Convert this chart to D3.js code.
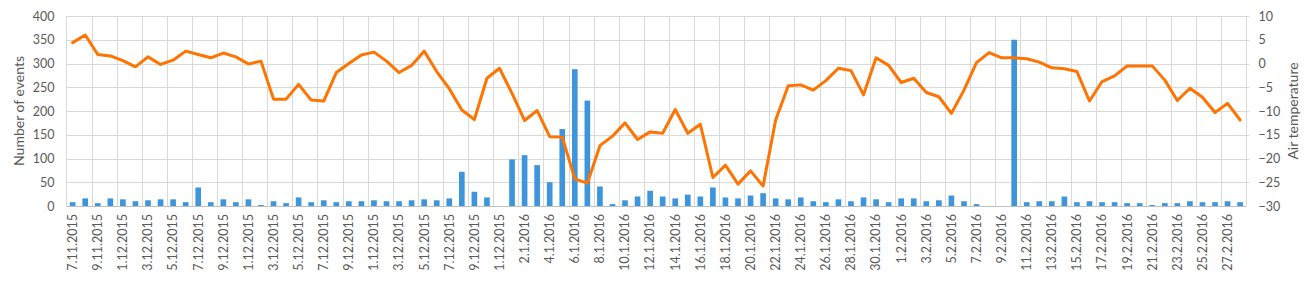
<!DOCTYPE html>
<html>
<head>
<meta charset="utf-8">
<script src="https://cdn.jsdelivr.net/npm/d3@7/dist/d3.min.js"></script>
<style>
  body { margin: 0; background: #fff; }
  svg text { font-family: Lato, "Open Sans", sans-serif; fill: #595959; }
</style>
</head>
<body>
<svg width="1312" height="283"></svg>
<script>
// one category per day, 27.11.2015 - 28.2.2016
const categories = [
  '27.11.2015', '28.11.2015', '29.11.2015', '30.11.2015',
  '1.12.2015', '2.12.2015', '3.12.2015', '4.12.2015', '5.12.2015', '6.12.2015', '7.12.2015', '8.12.2015',
  '9.12.2015', '10.12.2015', '11.12.2015', '12.12.2015', '13.12.2015', '14.12.2015', '15.12.2015', '16.12.2015',
  '17.12.2015', '18.12.2015', '19.12.2015', '20.12.2015', '21.12.2015', '22.12.2015', '23.12.2015', '24.12.2015',
  '25.12.2015', '26.12.2015', '27.12.2015', '28.12.2015', '29.12.2015', '30.12.2015', '31.12.2015',
  '1.1.2016', '2.1.2016', '3.1.2016', '4.1.2016', '5.1.2016', '6.1.2016', '7.1.2016', '8.1.2016',
  '9.1.2016', '10.1.2016', '11.1.2016', '12.1.2016', '13.1.2016', '14.1.2016', '15.1.2016', '16.1.2016',
  '17.1.2016', '18.1.2016', '19.1.2016', '20.1.2016', '21.1.2016', '22.1.2016', '23.1.2016', '24.1.2016',
  '25.1.2016', '26.1.2016', '27.1.2016', '28.1.2016', '29.1.2016', '30.1.2016', '31.1.2016',
  '1.2.2016', '2.2.2016', '3.2.2016', '4.2.2016', '5.2.2016', '6.2.2016', '7.2.2016', '8.2.2016',
  '9.2.2016', '10.2.2016', '11.2.2016', '12.2.2016', '13.2.2016', '14.2.2016', '15.2.2016', '16.2.2016',
  '17.2.2016', '18.2.2016', '19.2.2016', '20.2.2016', '21.2.2016', '22.2.2016', '23.2.2016', '24.2.2016',
  '25.2.2016', '26.2.2016', '27.2.2016', '28.2.2016',
];

// labels as they show up on the axis (every other day, clipped to 9 chars)
const tickLabels = [
  '7.11.2015', '9.11.2015', '1.12.2015', '3.12.2015', '5.12.2015', '7.12.2015', '9.12.2015',
  '1.12.2015', '3.12.2015', '5.12.2015', '7.12.2015', '9.12.2015', '1.12.2015', '3.12.2015',
  '5.12.2015', '7.12.2015', '9.12.2015', '1.12.2015', '2.1.2016', '4.1.2016', '6.1.2016',
  '8.1.2016', '10.1.2016', '12.1.2016', '14.1.2016', '16.1.2016', '18.1.2016', '20.1.2016',
  '22.1.2016', '24.1.2016', '26.1.2016', '28.1.2016', '30.1.2016', '1.2.2016', '3.2.2016',
  '5.2.2016', '7.2.2016', '9.2.2016', '11.2.2016', '13.2.2016', '15.2.2016', '17.2.2016',
  '19.2.2016', '21.2.2016', '23.2.2016', '25.2.2016', '27.2.2016',
];

const events = [
  8, 16, 6, 16, 14, 10, 12, 14, 14, 8,
  39, 8, 14, 8, 14, 2, 10, 6, 18, 8,
  12, 8, 10, 10, 12, 10, 10, 12, 14, 12,
  16, 72, 30, 18, 0, 98, 107, 86, 50, 162,
  288, 222, 41, 4, 12, 20, 32, 20, 16, 24,
  20, 39, 18, 16, 22, 27, 16, 14, 18, 10,
  8, 14, 10, 18, 14, 8, 16, 16, 10, 12,
  22, 10, 4, 0, 0, 350, 8, 10, 10, 20,
  8, 10, 8, 8, 6, 6, 2, 6, 6, 10,
  8, 8, 10, 8,
];

const temperature = [
  4.4, 6.0, 1.9, 1.6, 0.6, -0.7, 1.4, -0.2, 0.7, 2.6,
  1.9, 1.2, 2.2, 1.4, -0.1, 0.5, -7.5, -7.5, -4.4, -7.7,
  -7.9, -1.9, 0.0, 1.8, 2.4, 0.5, -1.9, -0.4, 2.6, -1.7,
  -5.3, -9.8, -11.8, -3.1, -1.0, -6.3, -12.0, -9.9, -15.4, -15.5,
  -24.3, -25.2, -17.3, -15.3, -12.5, -16.0, -14.4, -14.7, -9.7, -14.7,
  -12.8, -24.0, -21.4, -25.4, -22.6, -25.8, -11.9, -4.7, -4.5, -5.6,
  -3.6, -1.0, -1.5, -6.6, 1.2, -0.4, -4.0, -3.1, -6.1, -7.0,
  -10.5, -5.6, 0.2, 2.3, 1.2, 1.2, 1.0, 0.3, -0.9, -1.1,
  -1.7, -7.9, -3.8, -2.6, -0.5, -0.5, -0.5, -3.5, -7.8, -5.2,
  -7.1, -10.3, -8.4, -11.9,
];

const eventTicks = [0, 50, 100, 150, 200, 250, 300, 350, 400];
const tempTicks = [-30, -25, -20, -15, -10, -5, 0, 5, 10];

const config = {
  left: 66.4,
  right: 1246.4,
  top: 16,
  bottom: 206,
  barFill: '#3d95dc',
  lineStroke: '#ff7300',
  grid: '#d9d9d9',
  fontSize: 12.5,
};

function draw() {
  const svg = d3.select('svg');

  const x = d3.scaleBand()
    .domain(categories)
    .range([config.left, config.right]);
  const yEvents = d3.scaleLinear()
    .domain([0, 400])
    .range([config.bottom, config.top]);
  const yTemp = d3.scaleLinear()
    .domain([-30, 10])
    .range([config.bottom, config.top]);

  // gridlines: horizontal at every tick, vertical every second day
  const grid = svg.append('g').attr('stroke', config.grid).attr('stroke-width', 1);
  grid.selectAll('.hgrid')
    .data(eventTicks.slice(1))
    .enter()
    .append('line')
    .attr('class', 'hgrid')
    .attr('x1', config.left)
    .attr('x2', config.right + 3)
    .attr('y1', d => Math.round(yEvents(d)) + 0.5)
    .attr('y2', d => Math.round(yEvents(d)) + 0.5);
  const vIdx = d3.range(0, categories.length + 1, 2);
  grid.selectAll('.vgrid')
    .data(vIdx)
    .enter()
    .append('line')
    .attr('class', 'vgrid')
    .attr('x1', d => Math.round(config.left + d * x.step()) + 0.5)
    .attr('x2', d => Math.round(config.left + d * x.step()) + 0.5)
    .attr('y1', config.top)
    .attr('y2', config.bottom);

  // bars for the number of events
  const barW = x.bandwidth() * 0.45;
  svg.append('g')
    .selectAll('rect')
    .data(events)
    .enter()
    .append('rect')
    .attr('x', (d, i) => x(categories[i]) + (x.bandwidth() - barW) / 2)
    .attr('y', d => yEvents(d))
    .attr('width', barW)
    .attr('height', d => yEvents(0) - yEvents(d))
    .attr('fill', config.barFill);

  // temperature line
  const line = d3.line()
    .x((d, i) => x(categories[i]) + x.bandwidth() / 2)
    .y(d => yTemp(d));
  svg.append('path')
    .datum(temperature)
    .attr('d', line)
    .attr('fill', 'none')
    .attr('stroke', config.lineStroke)
    .attr('stroke-width', 3)
    .attr('stroke-linejoin', 'round')
    .attr('stroke-linecap', 'round');

  // bottom axis line
  svg.append('line')
    .attr('x1', config.left)
    .attr('x2', config.right)
    .attr('y1', config.bottom + 0.5)
    .attr('y2', config.bottom + 0.5)
    .attr('stroke', '#bfbfbf');

  // left axis
  const left = svg.append('g')
    .attr('transform', `translate(${config.left},0)`)
    .call(d3.axisLeft(yEvents).tickValues(eventTicks).tickSize(0).tickPadding(12));
  left.select('.domain').remove();
  left.selectAll('text').style('font-size', `${config.fontSize}px`).attr('font-family', null);

  // right axis
  const right = svg.append('g')
    .attr('transform', `translate(${config.right},0)`)
    .call(d3.axisRight(yTemp).tickValues(tempTicks).tickSize(0).tickPadding(12));
  right.select('.domain').remove();
  right.selectAll('text').style('font-size', `${config.fontSize}px`).attr('font-family', null);

  // rotated date labels
  svg.append('g')
    .selectAll('text')
    .data(tickLabels)
    .enter()
    .append('text')
    .attr('transform', (d, i) => {
      const cx = x(categories[i * 2]) + x.bandwidth() / 2;
      return `translate(${cx},214) rotate(-90)`;
    })
    .attr('text-anchor', 'end')
    .attr('dy', '0.35em')
    .style('font-size', `${config.fontSize}px`)
    .text(d => d);

  // axis titles
  svg.append('text')
    .attr('transform', `translate(19.5,${(config.top + config.bottom) / 2}) rotate(-90)`)
    .attr('text-anchor', 'middle')
    .attr('dy', '0.35em')
    .style('font-size', '14px')
    .text('Number of events');
  svg.append('text')
    .attr('transform', `translate(1293.5,${(config.top + config.bottom) / 2}) rotate(-90)`)
    .attr('text-anchor', 'middle')
    .attr('dy', '0.35em')
    .style('font-size', '14px')
    .text('Air temperature');
}

draw();
</script>
</body>
</html>
